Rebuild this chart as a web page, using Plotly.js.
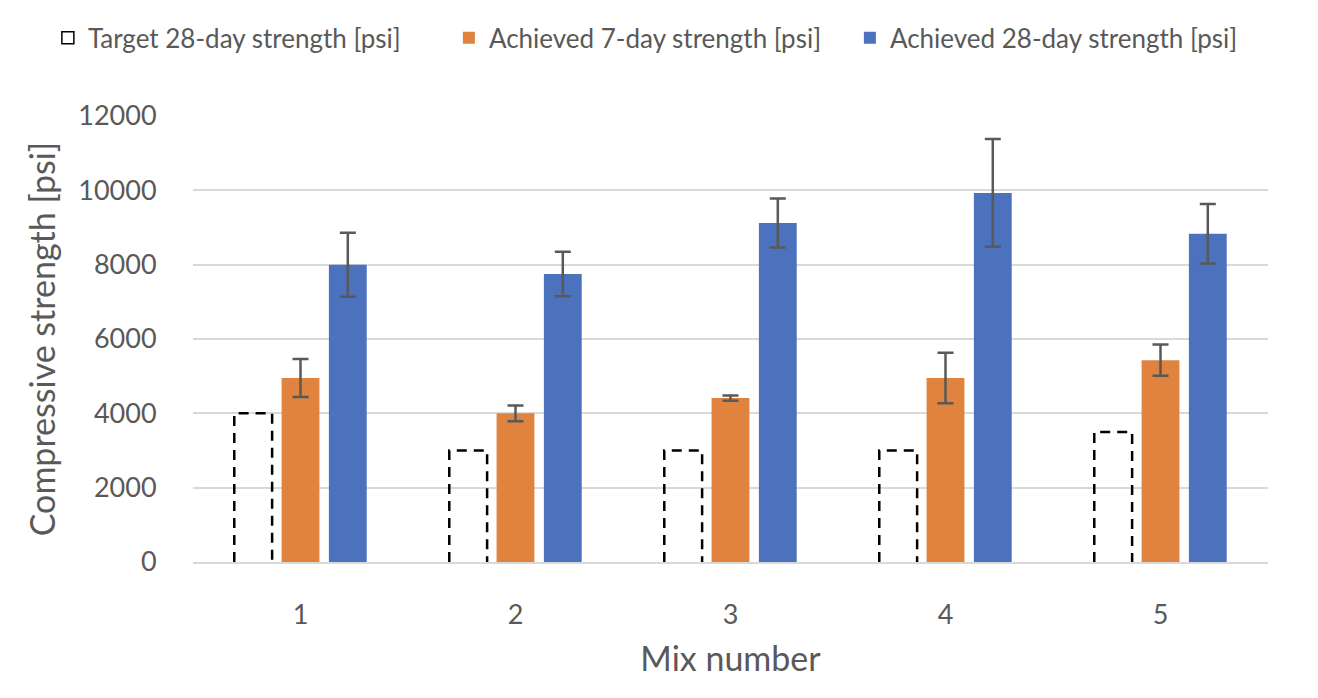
<!DOCTYPE html>
<html>
<head>
<meta charset="utf-8">
<script src="https://cdn.plot.ly/plotly-3.0.1.min.js"></script>
<style>
  html, body { margin: 0; padding: 0; background: #ffffff; }
  #chart { width: 1318px; height: 698px; }
</style>
</head>
<body>
<div id="chart"></div>
<script>
// ---- data ----
var mixNumbers   = [1, 2, 3, 4, 5];
var target28     = [4000, 3000, 3000, 3000, 3500];
var achieved7    = [4950, 4000, 4410, 4950, 5430];
var achieved7Err = [510, 210, 70, 680, 420];
var achieved28   = [8000, 7750, 9120, 9930, 8830];
var achieved28Err= [860, 600, 660, 1450, 800];
var yTicks       = [0, 2000, 4000, 6000, 8000, 10000, 12000];
var seriesNames  = ['Target 28-day strength [psi]', 'Achieved 7-day strength [psi]', 'Achieved 28-day strength [psi]'];

// ---- styling ----
var FONT = 'Lato, "Open Sans", sans-serif';
var TXT = '#595959';
var ORANGE = '#E0833F';
var BLUE = '#4C72BD';
var ERR = '#595959';
var BARGAP = 0.34, GROUPGAP = 0.2, NGROUP = 3;

// geometry of the first (target) slot in a group, derived from the bar layout settings
var slot = (1 - BARGAP) / NGROUP;
var halfW = slot * (1 - GROUPGAP) / 2;
var offs = -slot;

// dashed outline path for target bars (open at the bottom like the reference)
var ox = [], oy = [];
mixNumbers.forEach(function (m, i) {
  var x0 = m + offs - halfW, x1 = m + offs + halfW;
  ox.push(x0, x0, x1, x1, null);
  oy.push(0, target28[i], target28[i], 0, null);
});

var traces = [
  { // legend entry for target
    type: 'bar', x: mixNumbers, y: mixNumbers.map(function () { return null; }),
    xaxis: 'x2', name: seriesNames[0], legendrank: 1,
    marker: { color: '#ffffff', line: { color: '#000000', width: 1.5 } },
    hoverinfo: 'skip'
  },
  { // target bars (white, occupy first slot)
    type: 'bar', x: mixNumbers, y: target28, name: seriesNames[0],
    showlegend: false,
    marker: { color: 'rgba(255,255,255,0)', line: { width: 0 } }
  },
  {
    type: 'bar', x: mixNumbers, y: achieved7, name: seriesNames[1], legendrank: 2,
    marker: { color: ORANGE, line: { width: 0 } },
    error_y: { type: 'data', array: achieved7Err, visible: true, color: ERR, thickness: 2.5, width: 8 }
  },
  {
    type: 'bar', x: mixNumbers, y: achieved28, name: seriesNames[2], legendrank: 3,
    marker: { color: BLUE, line: { width: 0 } },
    error_y: { type: 'data', array: achieved28Err, visible: true, color: ERR, thickness: 2.5, width: 8 }
  },
  { // dashed outline of target bars
    type: 'scatter', mode: 'lines', x: ox, y: oy, showlegend: false, hoverinfo: 'skip',
    line: { color: '#000000', width: 2.5, dash: '10px,7px' }, connectgaps: false
  }
];

var layout = {
  width: 1318, height: 698,
  paper_bgcolor: '#ffffff', plot_bgcolor: '#ffffff',
  margin: { l: 193, r: 50, t: 116, b: 136 },
  font: { family: FONT, color: TXT, size: 27 },
  barmode: 'group', bargap: BARGAP, bargroupgap: GROUPGAP,
  showlegend: true,
  legend: {
    orientation: 'h', xref: 'paper', yref: 'paper',
    x: -0.135, xanchor: 'left', y: 1.228, yanchor: 'top',
    entrywidth: 356, entrywidthmode: 'pixels',
    font: { family: FONT, size: 26, color: TXT },
    bgcolor: 'rgba(0,0,0,0)', itemclick: false, traceorder: 'normal'
  },
  xaxis: {
    type: 'linear', range: [0.5, 5.5],
    tickvals: mixNumbers, ticktext: mixNumbers.map(String),
    ticks: 'outside', ticklen: 28, tickcolor: 'rgba(0,0,0,0)',
    showgrid: false, zeroline: false,
    showline: true, linecolor: '#d9d9d9', linewidth: 2,
    tickfont: { family: FONT, size: 27, color: TXT },
    title: { text: 'Mix number', font: { family: FONT, size: 34, color: TXT }, standoff: 18 },
    fixedrange: true
  },
  xaxis2: { overlaying: 'x', range: [0.5, 5.5], visible: false, fixedrange: true },
  yaxis: {
    range: [0, 12000], tickvals: yTicks, ticktext: yTicks.map(String),
    showgrid: true, gridcolor: '#d9d9d9', gridwidth: 2,
    zeroline: false, showline: false,
    ticks: 'outside', ticklen: 30, tickcolor: 'rgba(0,0,0,0)',
    tickfont: { family: FONT, size: 27, color: TXT },
    title: { text: 'Compressive strength [psi]', font: { family: FONT, size: 34, color: TXT }, standoff: 12 },
    fixedrange: true
  }
};

Plotly.newPlot('chart', traces, layout, { displayModeBar: false, staticPlot: true });
</script>
</body>
</html>
